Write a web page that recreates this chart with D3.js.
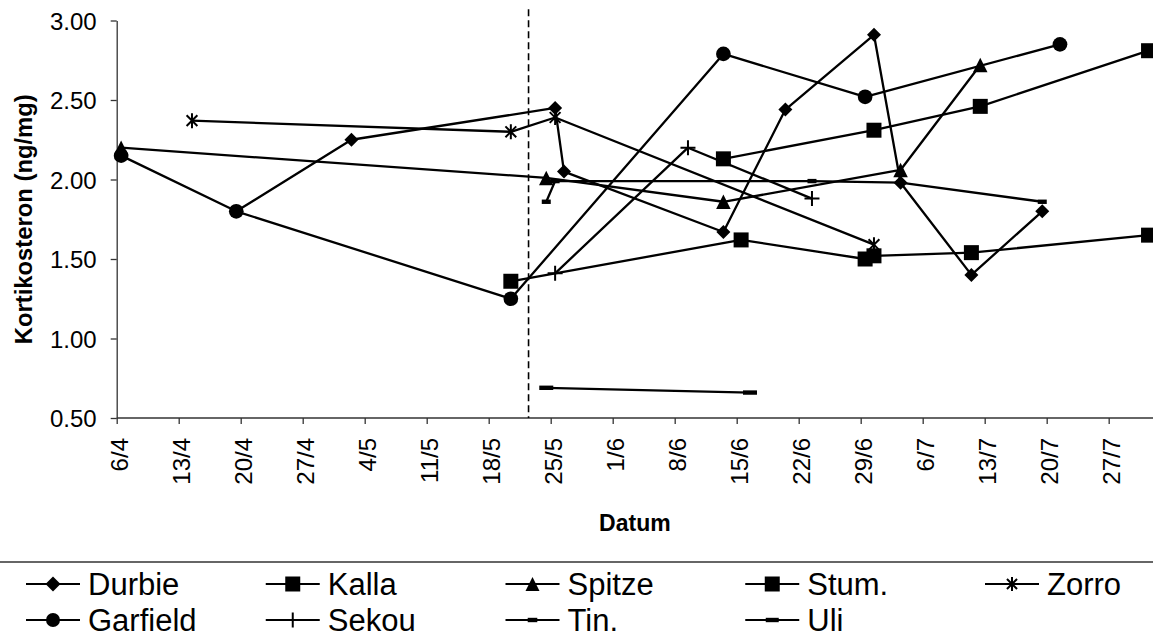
<!DOCTYPE html>
<html>
<head>
<meta charset="utf-8">
<script src="https://cdn.jsdelivr.net/npm/d3@7"></script>
<style>
  html, body { margin: 0; padding: 0; background: #fff; }
  svg { display: block; }
  text { font-family: "Liberation Sans", Arial, sans-serif; fill: #000; }
</style>
</head>
<body>
<svg id="chart" width="1153" height="637"></svg>
<script>
// Corticosterone measurements per animal (date as d/m, value in ng/mg)
const seriesNames = ["Durbie", "Kalla", "Spitze", "Stum.", "Zorro", "Garfield", "Sekou", "Tin.", "Uli"];

const durbieDates  = ["19/4", "2/5", "25/5", "26/5", "13/6", "20/6", "30/6", "3/7", "11/7", "19/7"];
const durbieValues = [1.80, 2.25, 2.45, 2.05, 1.67, 2.44, 2.91, 1.98, 1.40, 1.80];

const kallaDates  = ["13/6", "30/6", "12/7", "31/7"];
const kallaValues = [2.13, 2.31, 2.46, 2.81];

const spitzeDates  = ["6/4", "24/5", "13/6", "3/7", "12/7"];
const spitzeValues = [2.20, 2.01, 1.86, 2.06, 2.72];

const stumDates  = ["20/5", "15/6", "29/6", "30/6", "11/7", "31/7"];
const stumValues = [1.36, 1.62, 1.50, 1.52, 1.54, 1.65];

const zorroDates  = ["14/4", "20/5", "25/5", "30/6"];
const zorroValues = [2.37, 2.30, 2.39, 1.59];

const garfieldDates  = ["6/4", "19/4", "20/5", "13/6", "29/6", "21/7"];
const garfieldValues = [2.15, 1.80, 1.25, 2.79, 2.52, 2.85];

const sekouDates  = ["25/5", "9/6", "23/6"];
const sekouValues = [1.41, 2.20, 1.88];

const tinDates  = ["24/5", "25/5", "23/6", "3/7", "19/7"];
const tinValues = [1.86, 1.99, 1.99, 1.98, 1.86];

const uliDates  = ["24/5", "16/6"];
const uliValues = [0.69, 0.66];

// Axis ticks
const xTickLabels = ["6/4", "13/4", "20/4", "27/4", "4/5", "11/5", "18/5", "25/5", "1/6",
                     "8/6", "15/6", "22/6", "29/6", "6/7", "13/7", "20/7", "27/7"];
const yTickValues = [0.50, 1.00, 1.50, 2.00, 2.50, 3.00];
const eventDate = "22/5";   // dashed marker line

const YEAR = 2008;
const parse = d3.utcParse("%d/%m/%Y");
const toDate = s => parse(s + "/" + YEAR);

const markerTypes = ["diamond", "square", "triangle", "square", "star", "circle", "plus", "shortdash", "dash"];
const datesList  = [durbieDates, kallaDates, spitzeDates, stumDates, zorroDates, garfieldDates, sekouDates, tinDates, uliDates];
const valuesList = [durbieValues, kallaValues, spitzeValues, stumValues, zorroValues, garfieldValues, sekouValues, tinValues, uliValues];

const series = seriesNames.map((name, i) => ({
  name,
  marker: markerTypes[i],
  points: datesList[i].map((d, j) => ({ date: toDate(d), value: valuesList[i][j] }))
}));

// Layout
const W = 1153, H = 637;
const plotLeft = 116.7, plotTop = 20.5, plotBottom = 418;
const dayPx = 8.857;
const fontTick = 24, fontTitle = 23.8, fontLegend = 31;

const svg = d3.select("#chart");
svg.append("rect").attr("width", W).attr("height", H).attr("fill", "#fff");

const xStart = toDate("6/4"), xEnd = toDate("3/8");
const nDays = d3.utcDay.count(xStart, xEnd);
const x = d3.scaleUtc().domain([xStart, xEnd]).range([plotLeft, plotLeft + dayPx * nDays]);
const y = d3.scaleLinear().domain([0.5, 3.0]).range([plotBottom, plotTop]);

// Values sit in the middle of their day
const xMid = d => x(d3.utcHour.offset(d, 12));

// Marker path generator (centered at 0,0)
function markerPath(type, s) {
  const h = s / 2;
  switch (type) {
    case "diamond":  return `M0,${-h}L${h},0L0,${h}L${-h},0Z`;
    case "square":   return `M${-h},${-h}H${h}V${h}H${-h}Z`;
    case "triangle": return `M0,${-h}L${h},${h}L${-h},${h}Z`;
    case "circle": { const p = d3.path(); p.arc(0, 0, h, 0, 2 * Math.PI); p.closePath(); return p.toString(); }
    case "star": {
      const d = h * 0.72;
      return `M0,${-h}V${h}M${-d},${-d}L${d},${d}M${-d},${d}L${d},${-d}`;
    }
    case "plus":     return `M0,${-h}V${h}M${-h},0H${h}`;
    case "shortdash":return `M${-h * 0.6},-2.2H${h * 0.6}V2.2H${-h * 0.6}Z`;
    case "dash":     return `M${-h},-2.2H${h}V2.2H${-h}Z`;
  }
}
const isStroked = t => t === "star" || t === "plus";

function drawMarker(g, type, cx, cy, s) {
  const p = g.append("path")
    .attr("d", markerPath(type, s))
    .attr("transform", `translate(${cx},${cy})`);
  if (isStroked(type)) p.attr("fill", "none").attr("stroke", "#000").attr("stroke-width", 2);
  else p.attr("fill", "#000").attr("stroke", "none");
}

// Axes
const axisColor = "#333";

const yAxis = d3.axisLeft(y).tickValues(yTickValues).tickFormat(d3.format(".2f")).tickSize(6).tickSizeOuter(0);
const gy = svg.append("g").attr("transform", `translate(${plotLeft},0)`).call(yAxis);
gy.select(".domain").attr("stroke", axisColor).attr("stroke-width", 1.3);
gy.selectAll(".tick line").attr("stroke", axisColor).attr("stroke-width", 1.3);
gy.selectAll(".tick text")
  .attr("x", -20).attr("dy", null)
  .attr("y", 8.5)
  .style("font-size", fontTick + "px")
  .attr("text-anchor", "end")
  .attr("fill", "#000");

const xTickDates = xTickLabels.map(toDate);
const xAxis = d3.axisBottom(x).tickValues(xTickDates).tickFormat((d, i) => xTickLabels[i]).tickSize(6).tickSizeOuter(0);
const gx = svg.append("g").attr("transform", `translate(0,${plotBottom})`).call(xAxis);
gx.select(".domain").remove();
gx.append("line").attr("x1", plotLeft).attr("x2", W).attr("y1", 0).attr("y2", 0)
  .attr("stroke", axisColor).attr("stroke-width", 1.3);
gx.selectAll(".tick line").attr("stroke", axisColor).attr("stroke-width", 1.3);
gx.selectAll(".tick text")
  .attr("x", null).attr("y", null).attr("dy", null)
  .attr("transform", "translate(10.5,20) rotate(-90)")
  .attr("text-anchor", "end")
  .style("font-size", fontTick + "px")
  .attr("fill", "#000");

// Axis titles
svg.append("text")
  .attr("transform", `translate(32,${(plotTop + plotBottom) / 2}) rotate(-90)`)
  .attr("text-anchor", "middle")
  .style("font-size", fontTitle + "px").style("font-weight", "bold")
  .text("Kortikosteron (ng/mg)");

svg.append("text")
  .attr("transform", `translate(${(plotLeft + W) / 2},531)`)
  .attr("text-anchor", "middle")
  .style("font-size", "23px").style("font-weight", "bold")
  .text("Datum");

// Dashed event line
const ex = xMid(toDate(eventDate));
svg.append("line")
  .attr("x1", ex).attr("x2", ex)
  .attr("y1", y(3.07)).attr("y2", y(0.5))
  .attr("stroke", "#000").attr("stroke-width", 1.6)
  .attr("stroke-dasharray", "7,4");

// Series lines and markers
const line = d3.line().x(d => xMid(d.date)).y(d => y(d.value));
const gSeries = svg.append("g");
series.forEach(s => {
  gSeries.append("path")
    .datum(s.points)
    .attr("d", line)
    .attr("fill", "none")
    .attr("stroke", "#000")
    .attr("stroke-width", 2.3)
    .attr("stroke-linejoin", "round");
});
const markerSize = { diamond: 14, square: 15, triangle: 14.5, circle: 14.7, star: 15, plus: 15, shortdash: 15, dash: 14 };
series.forEach(s => {
  s.points.forEach(p => drawMarker(gSeries, s.marker, xMid(p.date), y(p.value), markerSize[s.marker]));
});

// Legend
svg.append("line").attr("x1", 0).attr("x2", W).attr("y1", 562).attr("y2", 562)
  .attr("stroke", "#333").attr("stroke-width", 1.3);

const legendCols = 5, colStep = 239.75, legendX0 = 26;
const rowCenters = [584, 620], rowBaselines = [595, 631];
const legendMarkerSize = { diamond: 15, square: 15, triangle: 14, circle: 14, star: 14, plus: 15, shortdash: 16, dash: 13 };
const gLegend = svg.append("g");
series.forEach((s, i) => {
  const col = i % legendCols, row = Math.floor(i / legendCols);
  const lx = legendX0 + col * colStep;
  gLegend.append("line")
    .attr("x1", lx).attr("x2", lx + 54)
    .attr("y1", rowCenters[row]).attr("y2", rowCenters[row])
    .attr("stroke", "#000").attr("stroke-width", 2.2);
  drawMarker(gLegend, s.marker, lx + 27, rowCenters[row], legendMarkerSize[s.marker]);
  gLegend.append("text")
    .attr("transform", `translate(${lx + 62},${rowBaselines[row]})`)
    .style("font-size", fontLegend + "px")
    .text(s.name);
});
</script>
</body>
</html>
